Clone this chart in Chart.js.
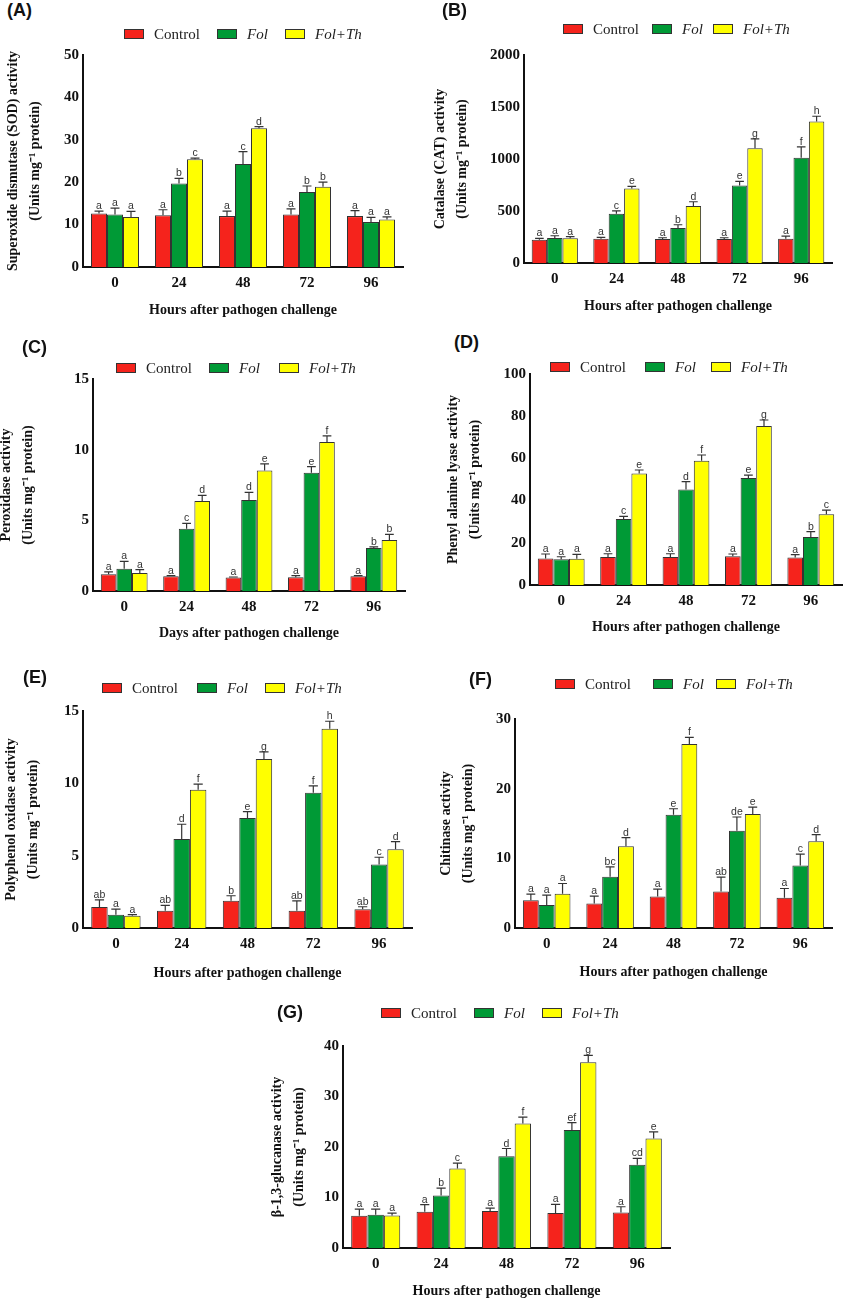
<!DOCTYPE html>
<html><head><meta charset="utf-8">
<script src="https://cdn.jsdelivr.net/npm/chart.js@4.4.1/dist/chart.umd.min.js"></script>
<style>
html,body{margin:0;padding:0;background:#fff;}
#fig{position:relative;width:848px;height:1299px;overflow:hidden;background:#fff;}
#fig canvas{position:absolute;}
.plbl{position:absolute;font:bold 18px "Liberation Sans",Arial,sans-serif;color:#111;line-height:18px;white-space:nowrap;}
</style></head><body><div id="fig"></div>
<script>
// ---------- shared ----------
const categories = ['0', '24', '48', '72', '96'];
const seriesNames = ['Control', 'Fol', 'Fol+Th'];

// ---------- (A) SOD ----------
const sodControl = [12.6, 12.2, 12.0, 12.4, 12.0];
const sodFol     = [12.4, 19.7, 24.3, 17.7, 10.6];
const sodFolTh   = [11.8, 25.4, 32.7, 18.9, 11.2];
const sodControlSD = [0.6, 1.3, 1.2, 1.3, 1.3];
const sodFolSD     = [1.5, 1.2, 2.9, 1.4, 1.1];
const sodFolThSD   = [1.3, 0.3, 0.4, 1.1, 0.6];
const sodControlLet = ['a', 'a', 'a', 'a', 'a'];
const sodFolLet     = ['a', 'b', 'c', 'b', 'a'];
const sodFolThLet   = ['a', 'c', 'd', 'b', 'a'];

// ---------- (B) CAT ----------
const catControl = [224, 234, 230, 230, 234];
const catFol     = [240, 474, 336, 746, 1011];
const catFolTh   = [237, 717, 547, 1104, 1360];
const catControlSD = [13, 12, 13, 13, 25];
const catFolSD     = [22, 28, 32, 38, 106];
const catFolThSD   = [16, 19, 42, 90, 51];
const catControlLet = ['a', 'a', 'a', 'a', 'a'];
const catFolLet     = ['a', 'c', 'b', 'e', 'f'];
const catFolThLet   = ['a', 'e', 'd', 'g', 'h'];

// ---------- (C) POX ----------
const poxControl = [1.18, 1.04, 0.95, 0.97, 1.04];
const poxFol     = [1.58, 4.40, 6.43, 8.37, 3.05];
const poxFolTh   = [1.28, 6.36, 8.52, 10.55, 3.60];
const poxControlSD = [0.17, 0.05, 0.04, 0.12, 0.05];
const poxFolSD     = [0.52, 0.38, 0.55, 0.43, 0.07];
const poxFolThSD   = [0.23, 0.41, 0.47, 0.43, 0.40];
const poxControlLet = ['a', 'a', 'a', 'a', 'a'];
const poxFolLet     = ['a', 'c', 'd', 'e', 'b'];
const poxFolThLet   = ['a', 'd', 'e', 'f', 'b'];

// ---------- (D) PAL ----------
const palControl = [12.6, 13.3, 13.3, 13.6, 13.0];
const palFol     = [12.2, 31.3, 45.3, 50.7, 22.7];
const palFolTh   = [12.5, 52.9, 58.9, 75.4, 33.5];
const palControlSD = [2.1, 1.5, 1.5, 1.1, 1.4];
const palFolSD     = [1.2, 1.2, 3.7, 1.4, 2.6];
const palFolThSD   = [2.0, 1.6, 2.7, 2.8, 2.0];
const palControlLet = ['a', 'a', 'a', 'a', 'a'];
const palFolLet     = ['a', 'c', 'd', 'e', 'b'];
const palFolThLet   = ['a', 'e', 'f', 'g', 'c'];

// ---------- (E) PPO ----------
const ppoControl = [1.45, 1.19, 1.88, 1.19, 1.29];
const ppoFol     = [0.92, 6.16, 7.60, 9.35, 4.39];
const ppoFolTh   = [0.85, 9.56, 11.69, 13.78, 5.44];
const ppoControlSD = [0.50, 0.37, 0.35, 0.69, 0.18];
const ppoFolSD     = [0.39, 1.01, 0.44, 0.48, 0.50];
const ppoFolThSD   = [0.07, 0.39, 0.49, 0.51, 0.53];
const ppoControlLet = ['ab', 'ab', 'b', 'ab', 'ab'];
const ppoFolLet     = ['a', 'd', 'e', 'f', 'c'];
const ppoFolThLet   = ['a', 'f', 'g', 'h', 'd'];

// ---------- (F) Chitinase ----------
const chiControl = [4.00, 3.53, 4.53, 5.25, 4.34];
const chiFol     = [3.29, 7.34, 16.26, 13.97, 8.97];
const chiFolTh   = [4.91, 11.73, 26.42, 16.36, 12.45];
const chiControlSD = [0.86, 1.05, 1.05, 2.05, 1.33];
const chiFolSD     = [1.43, 1.43, 0.86, 1.96, 1.62];
const chiFolThSD   = [1.48, 1.24, 0.95, 1.00, 0.95];
const chiControlLet = ['a', 'a', 'a', 'ab', 'a'];
const chiFolLet     = ['a', 'bc', 'e', 'de', 'c'];
const chiFolThLet   = ['a', 'd', 'f', 'e', 'd'];

// ---------- (G) beta-1,3-glucanase ----------
const gluControl = [6.39, 7.18, 7.31, 6.92, 7.05];
const gluFol     = [6.59, 10.41, 18.19, 23.39, 16.47];
const gluFolTh   = [6.46, 15.75, 24.65, 36.77, 21.68];
const gluControlSD = [1.32, 1.39, 0.60, 1.71, 1.12];
const gluFolSD     = [1.12, 1.45, 1.51, 1.45, 1.26];
const gluFolThSD   = [0.46, 1.05, 1.25, 1.38, 1.32];
const gluControlLet = ['a', 'a', 'a', 'a', 'a'];
const gluFolLet     = ['a', 'b', 'd', 'ef', 'cd'];
const gluFolThLet   = ['a', 'c', 'f', 'g', 'e'];

// ---------- axis settings ----------
const yMaxA = 50, yStepA = 10;
const yMaxB = 2000, yStepB = 500;
const yMaxC = 15, yStepC = 5;
const yMaxD = 100, yStepD = 20;
const yMaxE = 15, yStepE = 5;
const yMaxF = 30, yStepF = 10;
const yMaxG = 40, yStepG = 10;

const unitLine = '(Units mg\u207B\u00B9 protein)';
const xTitleHours = 'Hours after pathogen challenge';
const xTitleDays = 'Days after pathogen challenge';

// ---------- styling / layout ----------
const COLORS = ['#f5231c', '#009a36', '#ffff00'];
const SERIF = '"Liberation Serif","Times New Roman",serif';
const SANS = '"Liberation Sans",Arial,sans-serif';
const Y_LH = 1.55, Y_FS = 14, X_FS = 14, X_LH = 1.2;

const panels = [
  {tag:'(A)', vals:[sodControl,sodFol,sodFolTh], sds:[sodControlSD,sodFolSD,sodFolThSD], lets:[sodControlLet,sodFolLet,sodFolThLet],
   yMax:yMaxA, yStep:yStepA, yTitle:['Superoxide dismutase (SOD) activity', unitLine], xTitle:xTitleHours,
   plot:{l:83,t:55,r:403,b:267}, yt1:13.6, xtY:310, legY:34, legX:[124,217,285], lab:[7,1]},
  {tag:'(B)', vals:[catControl,catFol,catFolTh], sds:[catControlSD,catFolSD,catFolThSD], lets:[catControlLet,catFolLet,catFolThLet],
   yMax:yMaxB, yStep:yStepB, yTitle:['Catalase (CAT) activity', unitLine], xTitle:xTitleHours,
   plot:{l:524,t:55,r:832,b:263}, yt1:441, xtY:306, legY:29, legX:[563,652,713], lab:[442,1]},
  {tag:'(C)', vals:[poxControl,poxFol,poxFolTh], sds:[poxControlSD,poxFolSD,poxFolThSD], lets:[poxControlLet,poxFolLet,poxFolThLet],
   yMax:yMaxC, yStep:yStepC, yTitle:['Peroxidase activity', unitLine], xTitle:xTitleDays,
   plot:{l:93,t:379,r:405,b:591}, yt1:7.2, xtY:633, legY:368, legX:[116,209,279], lab:[22,338]},
  {tag:'(D)', vals:[palControl,palFol,palFolTh], sds:[palControlSD,palFolSD,palFolThSD], lets:[palControlLet,palFolLet,palFolThLet],
   yMax:yMaxD, yStep:yStepD, yTitle:['Phenyl alanine lyase activity', unitLine], xTitle:xTitleHours,
   plot:{l:530,t:374,r:842,b:585}, yt1:453.6, xtY:627, legY:367, legX:[550,645,711], lab:[454,333]},
  {tag:'(E)', vals:[ppoControl,ppoFol,ppoFolTh], sds:[ppoControlSD,ppoFolSD,ppoFolThSD], lets:[ppoControlLet,ppoFolLet,ppoFolThLet],
   yMax:yMaxE, yStep:yStepE, yTitle:['Polyphenol oxidase activity', unitLine], xTitle:xTitleHours,
   plot:{l:83,t:711,r:412,b:928}, yt1:11.6, xtY:973, legY:688, legX:[102,197,265], lab:[23,668]},
  {tag:'(F)', vals:[chiControl,chiFol,chiFolTh], sds:[chiControlSD,chiFolSD,chiFolThSD], lets:[chiControlLet,chiFolLet,chiFolThLet],
   yMax:yMaxF, yStep:yStepF, yTitle:['Chitinase activity', unitLine], xTitle:xTitleHours,
   plot:{l:515,t:719,r:832,b:928}, yt1:446.6, xtY:972, legY:684, legX:[555,653,716], lab:[469,670]},
  {tag:'(G)', vals:[gluControl,gluFol,gluFolTh], sds:[gluControlSD,gluFolSD,gluFolThSD], lets:[gluControlLet,gluFolLet,gluFolThLet],
   yMax:yMaxG, yStep:yStepG, yTitle:['\u03B2-1,3-glucanase activity', unitLine], xTitle:xTitleHours,
   plot:{l:343,t:1046,r:670,b:1248}, yt1:278.1, xtY:1291, legY:1013, legX:[381,474,542], lab:[277,1003]}
];

// error bars + significance letters
const errorBarPlugin = {
  id: 'errbars',
  afterDatasetsDraw(chart) {
    const ctx = chart.ctx, ys = chart.scales.y;
    ctx.save();
    chart.data.datasets.forEach((ds, di) => {
      const meta = chart.getDatasetMeta(di);
      meta.data.forEach((bar, i) => {
        const top = ys.getPixelForValue(ds.data[i] + ds.sd[i]);
        const cw = bar.width * 0.28;
        ctx.strokeStyle = '#333';
        ctx.lineWidth = 1.2;
        ctx.beginPath();
        ctx.moveTo(bar.x, bar.y);
        ctx.lineTo(bar.x, top);
        ctx.moveTo(bar.x - cw, top);
        ctx.lineTo(bar.x + cw, top);
        ctx.stroke();
        ctx.fillStyle = '#333';
        ctx.font = '10.5px ' + SANS;
        ctx.textAlign = 'center';
        ctx.textBaseline = 'alphabetic';
        ctx.fillText(ds.letters[i], bar.x, top - 2);
      });
    });
    ctx.restore();
  }
};

// legend with italic pathogen names
const legendPlugin = {
  id: 'customLegend',
  afterDraw(chart) {
    const o = chart.options.plugins.customLegend;
    const ctx = chart.ctx;
    ctx.save();
    chart.data.datasets.forEach((ds, i) => {
      const x = o.xs[i] - o.ox, y = o.y - o.oy;
      ctx.fillStyle = ds.backgroundColor;
      ctx.fillRect(x, y - 5, 20, 10);
      ctx.strokeStyle = '#333';
      ctx.lineWidth = 1;
      ctx.strokeRect(x + 0.5, y - 4.5, 19, 9);
      ctx.fillStyle = '#222';
      ctx.font = (i === 0 ? '' : 'italic ') + '15px ' + SERIF;
      ctx.textAlign = 'left';
      ctx.textBaseline = 'middle';
      ctx.fillText(ds.label, x + 30, y + 1);
    });
    ctx.restore();
  }
};

const fig = document.getElementById('fig');
panels.forEach(p => {
  const ylh = Y_FS * Y_LH, xlh = X_FS * X_LH;
  const L = Math.round(p.yt1 - ylh / 2);
  const T = Math.round(p.legY - 12);
  const R = p.plot.r + 8;
  const B = Math.round(p.xtY + xlh / 2 + 2);
  const W = R - L, H = B - T;
  const cv = document.createElement('canvas');
  cv.width = W; cv.height = H;
  cv.style.left = L + 'px'; cv.style.top = T + 'px';
  cv.style.width = W + 'px'; cv.style.height = H + 'px';
  fig.appendChild(cv);
  const lab = document.createElement('div');
  lab.className = 'plbl';
  lab.textContent = p.tag;
  lab.style.left = p.lab[0] + 'px'; lab.style.top = p.lab[1] + 'px';
  fig.appendChild(lab);

  const yW = p.plot.l - L;
  const xH = p.xtY + xlh / 2 - p.plot.b;
  new Chart(cv, {
    type: 'bar',
    data: {
      labels: categories,
      datasets: seriesNames.map((n, i) => ({
        label: n,
        data: p.vals[i],
        sd: p.sds[i],
        letters: p.lets[i],
        backgroundColor: COLORS[i],
        borderColor: '#333',
        borderWidth: 1,
        categoryPercentage: 0.75,
        barPercentage: 1.0
      }))
    },
    options: {
      responsive: false,
      animation: false,
      devicePixelRatio: 1,
      layout: {padding: {left: 0, top: p.plot.t - T, right: 8, bottom: B - (p.xtY + xlh / 2)}},
      plugins: {
        legend: {display: false},
        tooltip: {enabled: false},
        customLegend: {xs: p.legX, y: p.legY, ox: L, oy: T}
      },
      scales: {
        x: {
          grid: {display: false, drawTicks: false},
          border: {display: true, color: '#111', width: 2},
          ticks: {color: '#111', font: {family: SERIF, size: 15, weight: 'bold'}, padding: 7, maxRotation: 0},
          title: {display: true, text: p.xTitle, color: '#111', padding: 0,
                  font: {family: SERIF, size: X_FS, weight: 'bold', lineHeight: X_LH}},
          afterFit(s) { s.height = xH; }
        },
        y: {
          min: 0, max: p.yMax,
          grid: {display: false, drawTicks: false},
          border: {display: true, color: '#111', width: 2},
          ticks: {stepSize: p.yStep, color: '#111', padding: 4, font: {family: SERIF, size: 15, weight: 'bold'},
                  callback: v => String(v)},
          title: {display: true, text: p.yTitle, color: '#111', padding: 0,
                  font: {family: SERIF, size: Y_FS, weight: 'bold', lineHeight: Y_LH}},
          afterFit(s) { s.width = yW; }
        }
      }
    },
    plugins: [errorBarPlugin, legendPlugin]
  });
});
</script></body></html>
